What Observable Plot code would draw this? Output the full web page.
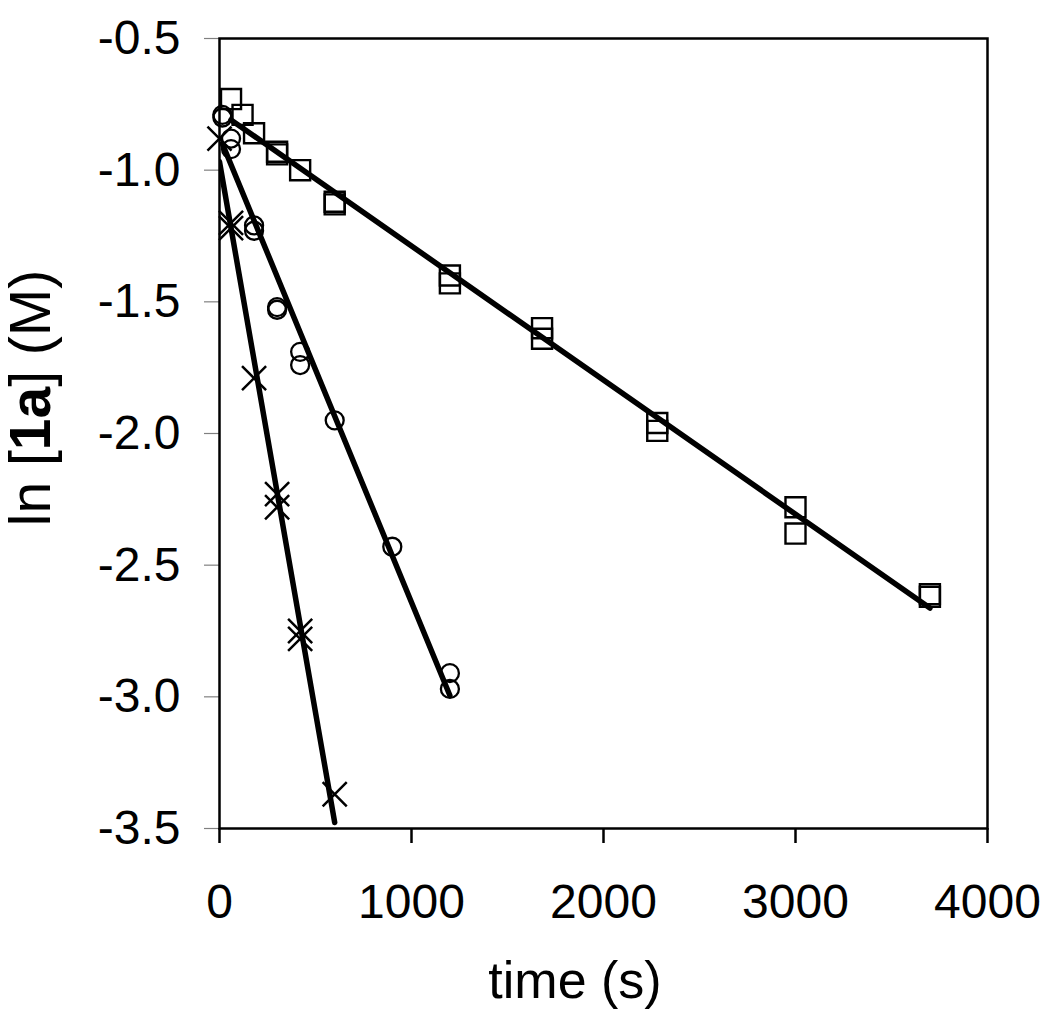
<!DOCTYPE html>
<html><head><meta charset="utf-8">
<script src="https://cdn.jsdelivr.net/npm/d3@7"></script>
<script src="https://cdn.jsdelivr.net/npm/@observablehq/plot@0.6"></script>
<style>body{margin:0;background:#fff;}</style>
</head><body><div id="chart"></div>
<script>
// Squares series
const squareTime = [60, 120, 180, 300, 300, 420, 600, 600, 1200, 1200, 1680, 1680, 2280, 2280, 3000, 3000, 3700, 3700];
const squareLn   = [-0.73, -0.79, -0.86, -0.93, -0.94, -1.00, -1.12, -1.13, -1.40, -1.43, -1.60, -1.64, -1.96, -1.99, -2.28, -2.38, -2.61, -2.62];
// Circles series
const circleTime = [15, 15, 60, 60, 180, 180, 300, 300, 420, 420, 600, 900, 1200, 1200];
const circleLn   = [-0.79, -0.80, -0.88, -0.92, -1.21, -1.23, -1.52, -1.53, -1.69, -1.74, -1.95, -2.43, -2.91, -2.97];
// Crosses series
const crossTime = [0, 60, 60, 180, 300, 300, 420, 420, 600];
const crossLn   = [-0.88, -1.20, -1.22, -1.79, -2.23, -2.28, -2.75, -2.78, -3.37];

const xTicks = [0, 1000, 2000, 3000, 4000];
const yTicks = [-0.5, -1.0, -1.5, -2.0, -2.5, -3.0, -3.5];

const toRows = (ts, vs) => ts.map((t, i) => ({t, v: vs[i]}));
const squares = toRows(squareTime, squareLn);
const circles = toRows(circleTime, circleLn);
const crosses = toRows(crossTime, crossLn);

const font = "'Liberation Sans', Arial, sans-serif";

const chart = Plot.plot({
  width: 1050, height: 1016,
  marginLeft: 219, marginRight: 63, marginTop: 38, marginBottom: 188,
  style: {fontFamily: font, fontSize: "48px", background: "white", color: "black", overflow: "visible"},
  x: {domain: [0, 4000]},
  y: {domain: [-3.5, -0.5]},
  marks: [
    Plot.axisY({ticks: yTicks, tickSize: 15, tickPadding: 24, stroke: "#808080", strokeWidth: 1.2,
      tickFormat: d => d.toFixed(1), label: null, fontSize: 48}),
    Plot.axisX({ticks: xTicks, tickSize: 15, tickPadding: 40, stroke: "black", strokeWidth: 2.5,
      tickFormat: d => String(d), label: null, fontSize: 48}),
    Plot.frame({stroke: "black", strokeWidth: 2.5}),
    Plot.linearRegressionY(squares, {x: "t", y: "v", ci: 0, stroke: "black", strokeWidth: 5.5}),
    Plot.linearRegressionY(circles, {x: "t", y: "v", ci: 0, stroke: "black", strokeWidth: 5.5}),
    Plot.linearRegressionY(crosses, {x: "t", y: "v", ci: 0, stroke: "black", strokeWidth: 5.5, clip: true}),
    Plot.dot(squares, {x: "t", y: "v", symbol: "square", r: 11.3, stroke: "black", strokeWidth: 2.4, fill: "none"}),
    Plot.dot(circles, {x: "t", y: "v", symbol: "circle", r: 9, stroke: "black", strokeWidth: 2.3, fill: "none"}),
    Plot.dot(crosses, {x: "t", y: "v", symbol: "times", r: 11, stroke: "black", strokeWidth: 2.5, fill: "none"})
  ]
});

const svg = d3.select(chart);
svg.append("text")
  .attr("x", 575).attr("y", 998)
  .attr("text-anchor", "middle")
  .attr("font-family", font).attr("font-size", 52).attr("fill", "black")
  .text("time (s)");

const yl = svg.append("text")
  .attr("transform", "translate(50,398) rotate(-90)")
  .attr("text-anchor", "middle")
  .attr("font-family", font).attr("font-size", 57).attr("fill", "black")
  .style("white-space", "pre");
yl.append("tspan").text("ln [");
yl.append("tspan").attr("font-weight", "bold").text("1a");
yl.append("tspan").text("] (M)");

document.getElementById("chart").appendChild(chart);
</script>
</body></html>
